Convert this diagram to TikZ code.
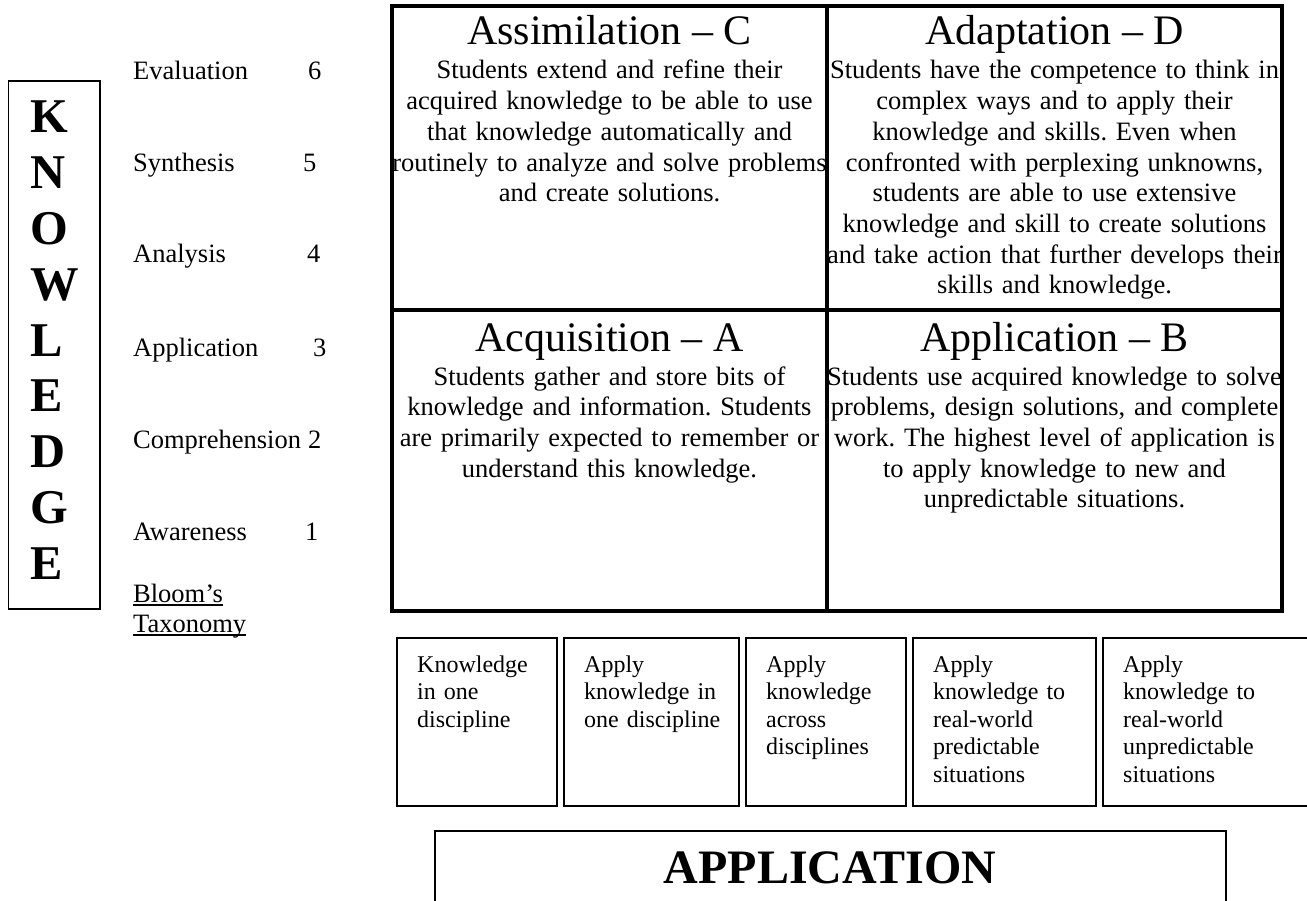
\documentclass[tikz,border=0pt]{standalone}
\usepackage{fontspec}
\setmainfont{Liberation Serif}
\usetikzlibrary{positioning}
\frenchspacing

\begin{document}
\begin{tikzpicture}[x=1pt, y=-1pt,
				quadline/.style={line width=4pt},
				boxline/.style={draw, line width=1.5pt, outer sep=0pt, inner sep=0pt, anchor=north west},
				celltitle/.style={font=\fontsize{42}{48}\selectfont, anchor=base, inner sep=0pt},
				celltext/.style={font=\fontsize{26.5}{30.7}\selectfont, anchor=base, inner sep=0pt, text width=470pt, align=center},
				bloomlvl/.style={font=\fontsize{26.5}{30.7}\selectfont, anchor=base west, inner sep=0pt},
				bigletter/.style={font=\fontsize{48.5}{55}\selectfont\bfseries, anchor=base west, inner sep=0pt},
				goaltext/.style={font=\fontsize{24}{27.5}\selectfont, anchor=base west, inner sep=0pt, text width=170pt, align=left}]
				
				\useasboundingbox (0,0) rectangle (1307,901);
				\clip (0,0) rectangle (1307,901);
				
				% Knowledge column
				\node[boxline, minimum width=91.5pt, minimum height=528pt] (knowbox) at (8.5,81) {};
				\foreach \ch [count=\i from 0] in {K,N,O,W,L,E,D,G,E}
					\node[bigletter] (k\i) at (30,133+55.75*\i) {\ch};
				
				% Bloom levels
				\foreach \name/\num/\y/\nx [count=\i] in {Evaluation/6/80/308, Synthesis/5/172/303, Analysis/4/263/307,
						Application/3/356/313, Comprehension/2/448/308, Awareness/1/540/305} {
					\node[bloomlvl] (lvl\i) at (133,\y) {\name};
					\node[bloomlvl] (num\i) at (\nx,\y) {\num};
				}
				\node[bloomlvl] (bloom) at (133,602) {Bloom’s};
				\node[bloomlvl] (taxo) at (133,632) {Taxonomy};
				\draw[line width=1.3pt] ([yshift=-3pt]bloom.base west) -- ([yshift=-3pt]bloom.base east);
				\draw[line width=1.3pt] ([yshift=-3pt]taxo.base west) -- ([yshift=-3pt]taxo.base east);
				
				% Quadrants
				\coordinate (gnw) at (392,6);
				\coordinate (gse) at (1282,611);
				\coordinate (gmid) at (827,310);
				\draw[quadline] (gnw) rectangle (gse);
				\draw[quadline] (gmid |- gnw) -- (gmid |- gse);
				\draw[quadline] (gnw |- gmid) -- (gse |- gmid);
				
				\node[celltitle] (assim) at (609.5,45) {Assimilation – C};
				\node[celltext] (assimtxt) at (609.5,79) {Students extend and refine their\\acquired knowledge to be able to use\\that knowledge automatically and\\routinely to analyze and solve problems\\and create solutions.};
				
				\node[celltitle] (adapt) at (1054.5,45) {Adaptation – D};
				\node[celltext] (adapttxt) at (1054.5,79) {Students have the competence to think in\\complex ways and to apply their\\knowledge and skills. Even when\\confronted with perplexing unknowns,\\students are able to use extensive\\knowledge and skill to create solutions\\and take action that further develops their\\skills and knowledge.};
				
				\node[celltitle] (acqui) at (609.5,352) {Acquisition – A};
				\node[celltext] (acquitxt) at (609.5,385) {Students gather and store bits of\\knowledge and information. Students\\are primarily expected to remember or\\understand this knowledge.};
				
				\node[celltitle] (apply) at (1054.5,352) {Application – B};
				\node[celltext] (applytxt) at (1054.5,385) {Students use acquired knowledge to solve\\problems, design solutions, and complete\\work. The highest level of application is\\to apply knowledge to new and\\unpredictable situations.};
				
				% Application steps
				\foreach \x/\w/\txt [count=\i] in {397/160/{Knowledge\\in one\\discipline},
						564/175/{Apply\\knowledge in\\one discipline},
						746/160/{Apply\\knowledge\\across\\disciplines},
						913/183/{Apply\\knowledge to\\real-world\\predictable\\situations},
						1103/220/{Apply\\knowledge to\\real-world\\unpredictable\\situations}} {
					\node[boxline, minimum width=\w pt, minimum height=168pt] (goal\i) at (\x,638) {};
					\node[goaltext] (goaltxt\i) at ([xshift=20pt,yshift=-34pt]goal\i.north west) {\txt};
				}
				
				% Application banner
				\node[boxline, minimum width=791pt, minimum height=100pt] (applbox) at (435,831) {};
				\node[font=\fontsize{48}{55}\selectfont\bfseries, anchor=base, inner sep=0pt] (appltitle) at (830,883) {APPLICATION};
			\end{tikzpicture}
\end{document}
